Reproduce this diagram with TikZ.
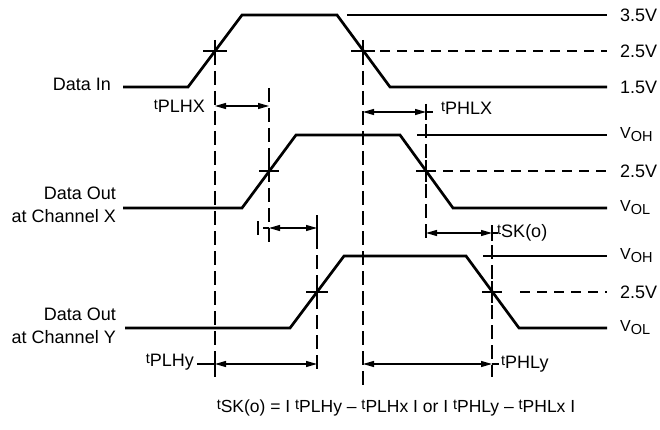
\documentclass[tikz,border=0pt]{standalone}
\usepackage{fontspec}
\setmainfont{Liberation Sans}
\usetikzlibrary{arrows.meta}
\newcommand{\tpre}{\raisebox{3pt}{\fontsize{14.5}{14.5}\selectfont t}}
\newcommand{\vsub}[1]{{\fontsize{16}{16}\selectfont V\raisebox{-3pt}{\fontsize{14.5}{14.5}\selectfont #1}}}
\begin{document}
\begin{tikzpicture}[x=1pt,y=-1pt,
  wave/.style={line width=2.7pt, line join=miter},
  thinline/.style={line width=1.1pt},
  vdash/.style={line width=1.1pt, dash pattern=on 14pt off 6pt},
  hdash/.style={line width=1.1pt, dash pattern=on 10pt off 7pt},
  dim/.style={line width=1.1pt, {Triangle[length=11pt,width=6pt]}-{Triangle[length=11pt,width=6pt]}},
  lbl/.style={font=\fontsize{18}{23}\selectfont, inner sep=0pt},
  rlbl/.style={font=\fontsize{18}{20}\selectfont, inner sep=0pt, anchor=west},
  tlbl/.style={font=\fontsize{18}{20}\selectfont, inner sep=0pt}
]
\useasboundingbox (0,0) rectangle (660,430);

% ---------- waveforms ----------
% Data In
\coordinate (i0) at (123,87); \coordinate (i1) at (188,87); \coordinate (i2) at (242,15);
\coordinate (i3) at (337,15); \coordinate (i4) at (390,87); \coordinate (i5) at (607,87);
\draw[wave] (i0) -- (i1) -- (i2) -- (i3) -- (i4) -- (i5);
% Data Out X
\coordinate (x0) at (123,208); \coordinate (x1) at (242,208); \coordinate (x2) at (296,135);
\coordinate (x3) at (400,135); \coordinate (x4) at (453,208); \coordinate (x5) at (607,208);
\draw[wave] (x0) -- (x1) -- (x2) -- (x3) -- (x4) -- (x5);
% Data Out Y
\coordinate (y0) at (125,328); \coordinate (y1) at (290,328); \coordinate (y2) at (344,256);
\coordinate (y3) at (466,256); \coordinate (y4) at (519,328); \coordinate (y5) at (607,328);
\draw[wave] (y0) -- (y1) -- (y2) -- (y3) -- (y4) -- (y5);

% ---------- reference levels ----------
\draw[thinline] (347,15) -- (607,15);
\draw[hdash] (380,51) -- (607,51);
\draw[thinline] (417,135) -- (607,135);
\draw[hdash] (443,171) -- (607,171);
\draw[thinline] (483,256) -- (607,256);
\draw[hdash] (520,292) -- (607,292);

% ---------- crosshairs ----------
\foreach \cx/\cy/\r in {215/51/12, 363/51/12, 269/171/10, 426/171/10, 317/292/11, 492/292/10}{
  \draw[thinline] (\cx-\r,\cy) -- (\cx+\r,\cy);
  \draw[thinline] (\cx,\cy-11) -- (\cx,\cy+11);
}

% ---------- vertical dashed lines ----------
\coordinate (va0) at (215,51);  \coordinate (va1) at (215,377);
\coordinate (vb0) at (363,51);  \coordinate (vb1) at (363,390);
\coordinate (vc0) at (269,88);  \coordinate (vc1) at (269,247);
\coordinate (vd0) at (426,104); \coordinate (vd1) at (426,243);
\coordinate (ve0) at (317,215); \coordinate (ve1) at (317,372);
\coordinate (vf0) at (492,225); \coordinate (vf1) at (492,377);
\draw[vdash] (va0) -- (va1);
\draw[vdash] (vb0) -- (vb1);
\draw[vdash] (vc0) -- (vc1);
\draw[vdash] (vd0) -- (vd1);
\draw[vdash] (ve0) -- (ve1);
\draw[vdash] (vf0) -- (vf1);

% ---------- dimension arrows ----------
% tPLHX
\coordinate (a1) at (215,106); \coordinate (a2) at (269,106);
\draw[dim] (a1) -- (a2);
% tPHLX
\coordinate (b1) at (363,112); \coordinate (b2) at (426,112); \coordinate (b3) at (433,112);
\draw[dim] (b1) -- (b2);
\draw[thinline] (b2) -- (b3);
\draw[thinline] (426,104) -- (426,120);
% skew between X and Y rising
\coordinate (c0) at (263,228); \coordinate (c1) at (269,228); \coordinate (c2) at (317,228);
\draw[dim] (c1) -- (c2);
\draw[thinline] (c0) -- (c1);
\draw[thinline] (258,221) -- (258,235);
\draw[thinline] (317,220) -- (317,236);
% tSK(o)
\coordinate (d1) at (426,233); \coordinate (d2) at (492,233); \coordinate (d3) at (498,233);
\draw[dim] (d1) -- (d2);
\draw[thinline] (d2) -- (d3);
\draw[thinline] (492,225) -- (492,241);
% tPLHy
\coordinate (e0) at (197,364); \coordinate (e1) at (215,364); \coordinate (e2) at (317,364);
\draw[dim] (e1) -- (e2);
\draw[thinline] (e0) -- (e1);
\draw[thinline] (215,357) -- (215,371);
% tPHLy
\coordinate (f1) at (363,364); \coordinate (f2) at (492,364); \coordinate (f3) at (499,364);
\draw[dim] (f1) -- (f2);
\draw[thinline] (f2) -- (f3);

% ---------- labels ----------
\node[lbl, anchor=east] (lin) at (111,84) {Data In};
\node[lbl, anchor=east, align=right] (lox) at (116,205) {Data Out\\at Channel X};
\node[lbl, anchor=east, align=right] (loy) at (116,326) {Data Out\\at Channel Y};

\node[rlbl] (r1) at (620,15) {3.5V};
\node[rlbl] (r2) at (620,51) {2.5V};
\node[rlbl] (r3) at (620,87) {1.5V};
\node[rlbl] (r4) at (620,135) {\vsub{OH}};
\node[rlbl] (r5) at (620,171) {2.5V};
\node[rlbl] (r6) at (620,208) {\vsub{OL}};
\node[rlbl] (r7) at (620,256) {\vsub{OH}};
\node[rlbl] (r8) at (620,292) {2.5V};
\node[rlbl] (r9) at (620,328) {\vsub{OL}};

\node[tlbl, anchor=east] (tplhx) at (205,106) {\tpre PLHX};
\node[tlbl, anchor=west] (tphlx) at (441,108) {\tpre PHLX};
\node[tlbl, anchor=west] (tsko) at (497,233) {\tpre SK(o)};
\node[tlbl, anchor=east] (tplhy) at (194,362) {\tpre PLHy};
\node[tlbl, anchor=west] (tphly) at (501,364) {\tpre PHLy};

\node[inner sep=0pt, font=\fontsize{17.5}{20}\selectfont] (eq) at (396,408)
  {\tpre SK(o) = I \tpre PLHy -- \tpre PLHx I or I \tpre PHLy -- \tpre PHLx I};
\end{tikzpicture}
\end{document}
